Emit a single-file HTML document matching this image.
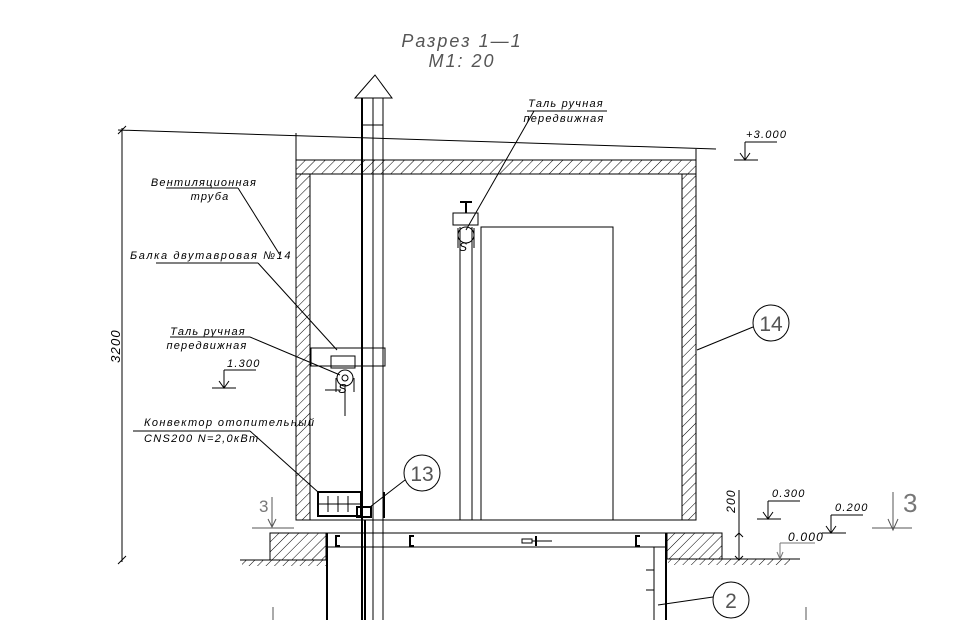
<!DOCTYPE html>
<html><head><meta charset="utf-8"><style>
html,body{margin:0;padding:0;background:#fff;}
svg{display:block;}
text{font-family:"Liberation Sans","DejaVu Sans",sans-serif;font-style:italic;fill:#000;letter-spacing:1.2px;}
</style></head><body>
<svg width="970" height="620" viewBox="0 0 970 620" xmlns="http://www.w3.org/2000/svg">
<defs>
<pattern id="h" patternUnits="userSpaceOnUse" width="7" height="7" patternTransform="rotate(45)">
<line x1="0" y1="0" x2="0" y2="7" stroke="#000" stroke-width="1"/>
</pattern>
<pattern id="g" patternUnits="userSpaceOnUse" width="6" height="6" patternTransform="rotate(45)">
<line x1="0" y1="0" x2="0" y2="6" stroke="#000" stroke-width="1"/>
</pattern>
</defs>
<g fill="none" stroke="#000" stroke-width="1">
<!-- title -->
<text x="462" y="47" font-size="18" stroke="none" text-anchor="middle" style="fill:#555;letter-spacing:2px">Разрез 1—1</text>
<text x="462" y="67" font-size="18" stroke="none" text-anchor="middle" style="fill:#555;letter-spacing:2px">М1: 20</text>

<!-- roof line -->
<line x1="118" y1="130" x2="716" y2="149"/>
<!-- dimension 3200 -->
<line x1="122" y1="128" x2="122" y2="562"/>
<line x1="118" y1="134" x2="126" y2="126"/>
<line x1="118" y1="564" x2="126" y2="556"/>
<text x="120" y="346" font-size="13" stroke="none" transform="rotate(-90 120 346)" text-anchor="middle">3200</text>

<!-- walls -->
<rect x="296" y="160" width="400" height="14" fill="url(#h)"/>
<rect x="296" y="174" width="14" height="346" fill="url(#h)"/>
<rect x="682" y="174" width="14" height="346" fill="url(#h)"/>
<line x1="296" y1="133" x2="296" y2="160"/>
<line x1="696" y1="149" x2="696" y2="160"/>
<!-- floor -->
<line x1="296" y1="520" x2="696" y2="520"/>
<line x1="270" y1="533" x2="722" y2="533"/>
<line x1="327" y1="547" x2="667" y2="547"/>
<!-- foundations -->
<rect x="270" y="533" width="56" height="27" fill="url(#h)"/>
<rect x="667" y="533" width="55" height="26" fill="url(#h)"/>
<line x1="240" y1="560" x2="326" y2="560"/>
<line x1="667" y1="559" x2="800" y2="559"/>
<rect x="242" y="560" width="84" height="6" fill="url(#g)" stroke="none"/>
<rect x="668" y="559" width="122" height="6" fill="url(#g)" stroke="none"/>
<!-- basement walls -->
<line x1="327" y1="533" x2="327" y2="620" stroke-width="2"/>
<line x1="666" y1="533" x2="666" y2="620" stroke-width="2"/>
<line x1="654" y1="547" x2="654" y2="620"/>
<path d="M646 570 h8 M646 590 h8"/>
<!-- beams C -->
<path d="M340 536 h-4 v10 h4 M414 536 h-4 v10 h4 M640 536 h-4 v10 h4" stroke-width="2"/>
<path d="M536 536 v10" stroke-width="2"/>
<path d="M522 539 h10 v4 h-10 z M532 541 h20"/>

<!-- vent pipe -->
<line x1="362" y1="98" x2="362" y2="620" stroke-width="2"/>
<line x1="373" y1="98" x2="373" y2="620"/>
<line x1="383" y1="98" x2="383" y2="620"/>
<path d="M355 98 L375 75 L392 98 Z"/>
<line x1="362" y1="125" x2="383" y2="125"/>
<line x1="365" y1="520" x2="365" y2="620" stroke-width="2"/>

<!-- beam with hoist left -->
<rect x="311" y="348" width="74" height="18"/>
<rect x="331" y="356" width="24" height="12"/>
<circle cx="345" cy="378" r="8"/>
<circle cx="345" cy="378" r="3"/>
<path d="M336 378 v14 M354 378 v14 M345 386 v30 M325 390 h16"/>
<text x="338" y="393" font-size="13" stroke="none">S</text>

<!-- right hoist & door -->
<path d="M460 227 v293 M472 227 v293"/>
<rect x="481" y="227" width="132" height="293"/>
<rect x="453" y="213" width="25" height="12"/>
<path d="M466 202 v11 M460 202 h12" stroke-width="2"/>
<circle cx="466" cy="235" r="8"/>
<path d="M458 228 v20 M474 228 v20"/>
<text x="459" y="251" font-size="12" stroke="none">S</text>

<!-- convector -->
<rect x="318" y="492" width="43" height="24" stroke-width="2"/>
<path d="M318 504 h43 M328 496 v16 M338 496 v16 M348 496 v16"/>
<rect x="357" y="507" width="14" height="10" stroke-width="2"/>
<line x1="384" y1="492" x2="384" y2="518" stroke-width="2"/>

<!-- circles -->
<circle cx="422" cy="473" r="18"/>
<text x="422" y="481" font-size="21" stroke="none" text-anchor="middle" style="fill:#555;font-style:normal;letter-spacing:0">13</text>
<line x1="405" y1="480" x2="370" y2="507"/>
<circle cx="771" cy="323" r="18"/>
<text x="771" y="331" font-size="21" stroke="none" text-anchor="middle" style="fill:#555;font-style:normal;letter-spacing:0">14</text>
<line x1="753" y1="327" x2="697" y2="350"/>
<circle cx="731" cy="600" r="18"/>
<text x="731" y="608" font-size="21" stroke="none" text-anchor="middle" style="fill:#555;font-style:normal;letter-spacing:0">2</text>
<line x1="713" y1="597" x2="658" y2="605"/>

<!-- labels -->
<text x="204" y="186" font-size="11" stroke="none" text-anchor="middle">Вентиляционная</text>
<text x="210" y="200" font-size="11" stroke="none" text-anchor="middle">труба</text>
<line x1="166" y1="188" x2="238" y2="188"/>
<line x1="238" y1="188" x2="280" y2="255"/>
<text x="130" y="259" font-size="11" stroke="none" style="letter-spacing:1.6px">Балка двутавровая №14</text>
<line x1="156" y1="263" x2="258" y2="263"/>
<line x1="258" y1="263" x2="337" y2="350"/>
<text x="208" y="335" font-size="11" stroke="none" text-anchor="middle">Таль ручная</text>
<text x="207" y="349" font-size="11" stroke="none" text-anchor="middle">передвижная</text>
<line x1="170" y1="337" x2="250" y2="337"/>
<line x1="250" y1="337" x2="340" y2="375"/>
<text x="227" y="367" font-size="11" stroke="none">1.300</text>
<path d="M224 370 h32 M224 370 v18 M212 388 h24 M219 381 l5 7 l5 -7"/>
<text x="144" y="426" font-size="11" stroke="none" style="letter-spacing:1.4px">Конвектор отопительный</text>
<line x1="133" y1="431" x2="250" y2="431"/>
<text x="144" y="442" font-size="11" stroke="none" style="letter-spacing:1.3px">CNS200   N=2,0кВт</text>
<line x1="250" y1="431" x2="318" y2="492"/>
<text x="566" y="107" font-size="11" stroke="none" text-anchor="middle">Таль ручная</text>
<text x="564" y="122" font-size="11" stroke="none" text-anchor="middle">передвижная</text>
<line x1="527" y1="111" x2="607" y2="111"/>
<line x1="534" y1="111" x2="466" y2="230"/>

<!-- elevations -->
<text x="746" y="138" font-size="11" stroke="none">+3.000</text>
<path d="M745 142 h32 M745 142 v18 M734 160 h24 M740 153 l5 7 l5 -7"/>
<text x="772" y="497" font-size="11" stroke="none">0.300</text>
<path d="M768 501 h32 M768 501 v18 M757 519 h24 M763 512 l5 7 l5 -7"/>
<text x="835" y="511" font-size="11" stroke="none">0.200</text>
<path d="M831 515 h32 M831 515 v18 M822 533 h24 M826 526 l5 7 l5 -7"/>
<text x="788" y="541" font-size="12" stroke="none">0.000</text>
<path d="M780 543 h35 M780 543 v16" stroke="#777"/>
<path d="M777 552 l3 7 l3 -7" stroke="#777"/>
<!-- dimension 200 -->
<line x1="739" y1="490" x2="739" y2="560"/>
<path d="M735 537 l4 -4 l4 4 M735 556 l4 4 l4 -4"/>
<text x="735" y="501" font-size="12" stroke="none" transform="rotate(-90 735 501)" text-anchor="middle">200</text>
<!-- section marks 3 -->
<path d="M893 492 v38 M888 519 l5 11 l5 -11 M872 528 h40" stroke="#555"/>
<text x="903" y="512" font-size="26" stroke="none" style="fill:#777;font-style:normal;letter-spacing:0">3</text>
<path d="M272 497 v30 M268 519 l4 8 l4 -8 M252 528 h42" stroke="#555"/>
<text x="259" y="512" font-size="17" stroke="none" style="fill:#777;font-style:normal;letter-spacing:0">3</text>
<path d="M273 607 v13 M806 607 v13" stroke="#555"/>
</g>
</svg>
</body></html>
